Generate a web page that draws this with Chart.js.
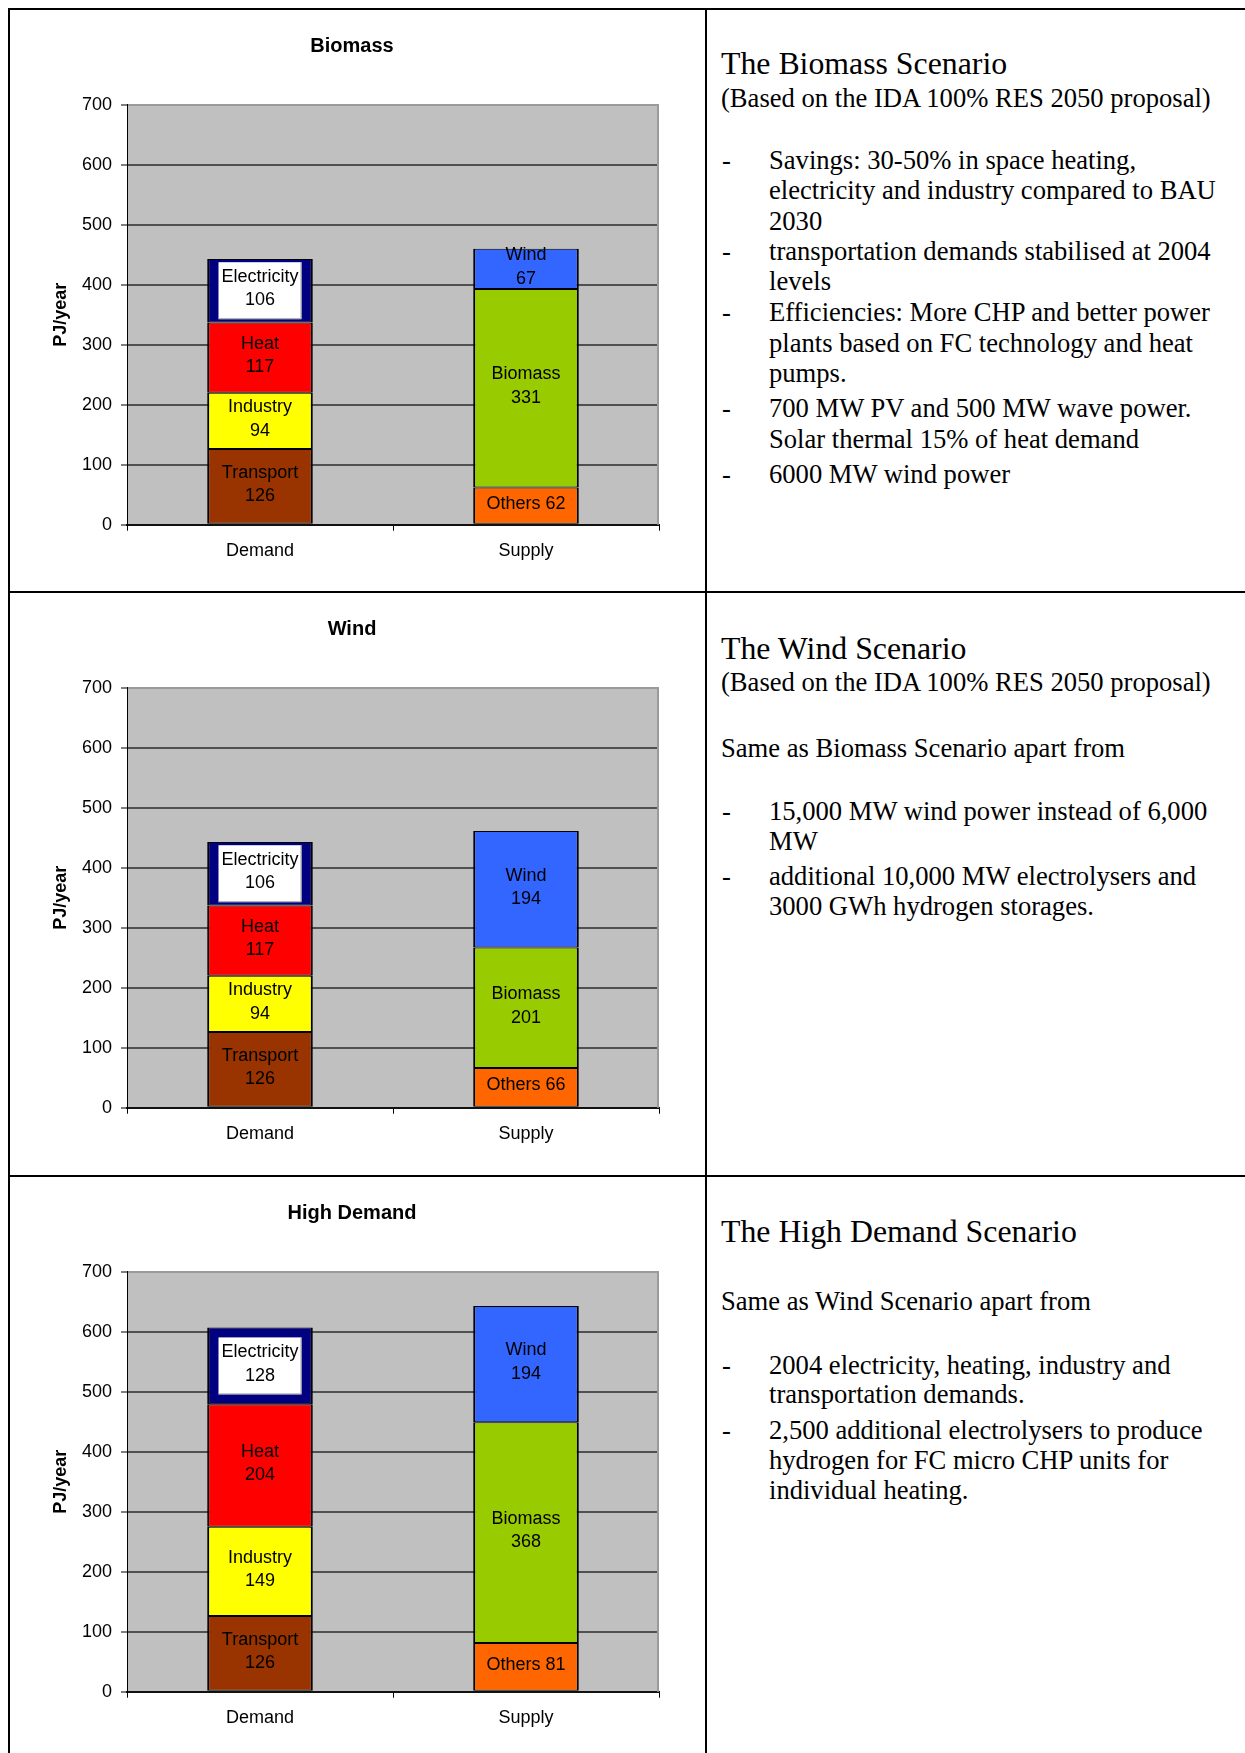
<!DOCTYPE html>
<html>
<head>
<meta charset="utf-8">
<script src="https://cdn.jsdelivr.net/npm/chart.js@4.4.1/dist/chart.umd.min.js"></script>
<style>
html,body{margin:0;padding:0;background:#fff;overflow:hidden;}
#page{position:relative;width:1245px;height:1753px;overflow:hidden;background:#fff;}
.ln{position:absolute;background:#000;}
canvas.ch{position:absolute;left:10px;}
.t{position:absolute;font-family:'Liberation Serif','Times New Roman',serif;color:#000;white-space:nowrap;line-height:normal;}
</style>
</head>
<body>
<div id="page">
  <div class="ln" style="left:8px;top:8px;width:2px;height:1745px;"></div>
  <div class="ln" style="left:705px;top:8px;width:2px;height:1745px;"></div>
  <div class="ln" style="left:8px;top:8px;width:1237px;height:2px;"></div>
  <div class="ln" style="left:8px;top:591px;width:1237px;height:2px;"></div>
  <div class="ln" style="left:8px;top:1175px;width:1237px;height:2px;"></div>
  <canvas class="ch" id="c0" width="695" height="580" style="top:10px;"></canvas>
  <canvas class="ch" id="c1" width="695" height="580" style="top:593px;"></canvas>
  <canvas class="ch" id="c2" width="695" height="580" style="top:1177px;"></canvas>
</div>
<script>
// ---- chart data ----
const categories = ['Demand', 'Supply'];
const chartTitles = ['Biomass', 'Wind', 'High Demand'];
const transport   = [126, 126, 126];
const industry    = [94, 94, 149];
const heat        = [117, 117, 204];
const electricity = [106, 106, 128];
const others      = [62, 66, 81];
const biomass     = [331, 201, 368];
const wind        = [67, 194, 194];
const yMin = 0, yMax = 700, yStep = 100;
const yAxisTitle = 'PJ/year';

// ---- text panels ----
const panelText = [
  [
    [74.6, 'h', 'The Biomass Scenario'],
    [107.2, 'p', '(Based on the IDA 100% RES 2050 proposal)'],
    [168.4, 'b', 'Savings: 30-50% in space heating,'],
    [199.0, 'c', 'electricity and industry compared to BAU'],
    [229.6, 'c', '2030'],
    [260.2, 'b', 'transportation demands stabilised at 2004'],
    [290.2, 'c', 'levels'],
    [320.7, 'b', 'Efficiencies: More CHP and better power'],
    [351.3, 'c', 'plants based on FC technology and heat'],
    [382.0, 'c', 'pumps.'],
    [417.2, 'b', '700 MW PV and 500 MW wave power.'],
    [447.8, 'c', 'Solar thermal 15% of heat demand'],
    [483.0, 'b', '6000 MW wind power']
  ],
  [
    [659.0, 'h', 'The Wind Scenario'],
    [690.5, 'p', '(Based on the IDA 100% RES 2050 proposal)'],
    [756.7, 'p', 'Same as Biomass Scenario apart from'],
    [820.0, 'b', '15,000 MW wind power instead of 6,000'],
    [849.8, 'c', 'MW'],
    [885.0, 'b', 'additional 10,000 MW electrolysers and'],
    [915.0, 'c', '3000 GWh hydrogen storages.']
  ],
  [
    [1242.7, 'h', 'The High Demand Scenario'],
    [1310.0, 'p', 'Same as Wind Scenario apart from'],
    [1373.3, 'b', '2004 electricity, heating, industry and'],
    [1403.0, 'c', 'transportation demands.'],
    [1438.5, 'b', '2,500 additional electrolysers to produce'],
    [1468.8, 'c', 'hydrogen for FC micro CHP units for'],
    [1499.0, 'c', 'individual heating.']
  ]
];

const page = document.getElementById('page');
const HEAD = 31.8, BODY = 26.6, ASC = 0.891;
function addText(x, baseline, size, txt) {
  const d = document.createElement('div');
  d.className = 't';
  d.style.fontSize = size + 'px';
  d.style.left = x + 'px';
  d.style.top = (baseline - ASC * size) + 'px';
  d.textContent = txt;
  page.appendChild(d);
}
panelText.forEach(panel => panel.forEach(([b, kind, txt]) => {
  if (kind === 'h') addText(721, b, HEAD, txt);
  else if (kind === 'p') addText(721, b, BODY, txt);
  else {
    if (kind === 'b') addText(722, b, BODY, '-');
    addText(769, b, BODY, txt);
  }
}));

// ---- charts ----
const FONT = "'Liberation Sans', Arial, sans-serif";
const seriesDefs = [
  { name: 'Transport',   values: transport,   cat: 0, color: '#993300' },
  { name: 'Industry',    values: industry,    cat: 0, color: '#FFFF00' },
  { name: 'Heat',        values: heat,        cat: 0, color: '#FF0000' },
  { name: 'Electricity', values: electricity, cat: 0, color: '#000080', box: true },
  { name: 'Others',      values: others,      cat: 1, color: '#FF6600', inline: true },
  { name: 'Biomass',     values: biomass,     cat: 1, color: '#99CC00' },
  { name: 'Wind',        values: wind,        cat: 1, color: '#3366FF' }
];

const plotFrame = {
  id: 'plotFrame',
  beforeDraw(chart) {
    const { ctx, chartArea: a } = chart;
    ctx.save();
    ctx.fillStyle = '#C0C0C0';
    ctx.fillRect(a.left, a.top, a.right - a.left, a.bottom - a.top);
    ctx.restore();
  },
  beforeDatasetsDraw(chart) {
    const { ctx, chartArea: a } = chart;
    ctx.save();
    ctx.strokeStyle = '#9a9a9a';
    ctx.lineWidth = 2;
    ctx.beginPath();
    ctx.moveTo(a.right - 1, a.top);
    ctx.lineTo(a.right - 1, a.bottom);
    ctx.stroke();
    ctx.restore();
  }
};

const segLabels = {
  id: 'segLabels',
  afterDatasetsDraw(chart) {
    const ctx = chart.ctx;
    ctx.save();
    ctx.font = '18px ' + FONT;
    ctx.textAlign = 'center';
    ctx.textBaseline = 'middle';
    const lh = 23.5;
    chart.data.datasets.forEach((ds, di) => {
      const meta = chart.getDatasetMeta(di);
      meta.data.forEach((bar, i) => {
        const v = ds.data[i];
        if (v === null || v === undefined) return;
        const cx = bar.x;
        const cy = (bar.y + bar.base) / 2 - 2;
        const lines = ds.inlineLabel ? [ds.label + ' ' + v] : [ds.label, String(v)];
        if (ds.boxLabel) {
          const w = Math.max(...lines.map(l => ctx.measureText(l).width)) + 6;
          const h = lines.length * lh + 10;
          ctx.fillStyle = '#ffffff';
          ctx.fillRect(cx - w / 2, cy + 2 - h / 2, w, h);
          ctx.strokeStyle = '#a0a0a0';
          ctx.lineWidth = 1;
          ctx.beginPath();
          ctx.moveTo(cx + w / 2 - 0.5, cy + 2 - h / 2);
          ctx.lineTo(cx + w / 2 - 0.5, cy + 2 + h / 2 - 0.5);
          ctx.lineTo(cx - w / 2, cy + 2 + h / 2 - 0.5);
          ctx.stroke();
        }
        ctx.fillStyle = '#000';
        lines.forEach((l, k) => {
          ctx.fillText(l, cx, cy + (k - (lines.length - 1) / 2) * lh);
        });
      });
    });
    ctx.restore();
  }
};

chartTitles.forEach((title, k) => {
  const datasets = seriesDefs.map(s => ({
    label: s.name,
    data: categories.map((c, ci) => (ci === s.cat ? s.values[k] : null)),
    backgroundColor: s.color,
    borderColor: '#000',
    borderWidth: { top: 1, bottom: 1, left: 2, right: 2 },
    borderSkipped: false,
    categoryPercentage: 1,
    barPercentage: 0.397,
    inlineLabel: !!s.inline,
    boxLabel: !!s.box
  }));
  new Chart(document.getElementById('c' + k), {
    type: 'bar',
    data: { labels: categories, datasets },
    options: {
      responsive: false,
      animation: false,
      devicePixelRatio: 1,
      layout: { padding: { left: 35, right: 46, top: 0, bottom: 0 } },
      plugins: {
        legend: { display: false },
        tooltip: { enabled: false },
        title: {
          display: true, text: title, color: '#000',
          font: { family: FONT, size: 20, weight: 'bold' },
          padding: { top: 24, bottom: 46.7 }
        }
      },
      scales: {
        x: {
          stacked: true,
          offset: true,
          grid: { offset: true, drawOnChartArea: false, drawTicks: true, tickLength: 6, tickColor: '#000', tickWidth: 1 },
          border: { display: true, color: '#111', width: 2 },
          ticks: { color: '#000', font: { family: FONT, size: 18 }, padding: 9.5 },
          afterFit(s) { s.height = 65.3; }
        },
        y: {
          stacked: true,
          min: yMin, max: yMax,
          ticks: { stepSize: yStep, color: '#000', font: { family: FONT, size: 18 }, padding: 9 },
          grid: {
            color: c => (c.tick && c.tick.value === yMax ? '#9a9a9a' : '#505050'),
            lineWidth: 2, tickColor: '#000', tickWidth: 1, tickLength: 6, drawTicks: true
          },
          border: { display: true, color: '#000', width: 1 },
          title: {
            display: true, text: yAxisTitle, color: '#000',
            font: { family: FONT, size: 18, weight: 'bold' },
            padding: { top: 5, bottom: 0 }
          },
          afterFit(s) { s.width = 82; }
        }
      }
    },
    plugins: [plotFrame, segLabels]
  });
});
</script>
</body>
</html>
